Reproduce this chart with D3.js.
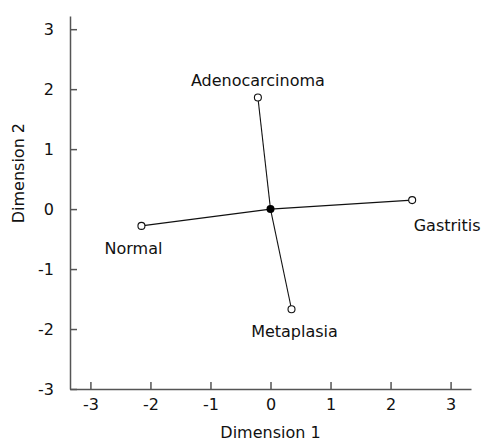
<!DOCTYPE html>
<html>
<head>
<meta charset="utf-8">
<script src="https://cdn.jsdelivr.net/npm/d3@7"></script>
<style>
  html, body { margin: 0; padding: 0; background: #fff; }
  svg text { font-family: "DejaVu Sans", Verdana, sans-serif; fill: #111; }
</style>
</head>
<body>
<svg id="chart" width="483" height="443"></svg>
<script>
// ---- data ----
const groups = ["Adenocarcinoma", "Gastritis", "Metaplasia", "Normal"];
const dim1   = [-0.21, 2.36, 0.35, -2.15];
const dim2   = [1.86, 0.15, -1.67, -0.28];
const centroid = [0, 0];
const tickValues = [-3, -2, -1, 0, 1, 2, 3];
const xTitle = "Dimension 1";
const yTitle = "Dimension 2";

// ---- label placement (pixel offsets from each point) ----
const labelDx = [0, 35, 3, -8];
const labelDy = [-12, 31, 28, 28];

const svg = d3.select("#chart");
const x = d3.scaleLinear().domain([-3.34, 3.34]).range([70, 471]);
const y = d3.scaleLinear().domain([-3, 3.22]).range([389, 16]);

const axisColor = "#555";
const fontSize = 16;

// x axis
const gx = svg.append("g").attr("transform", `translate(0,${y(-3)})`)
  .call(d3.axisBottom(x).tickValues(tickValues).tickSizeInner(-7).tickSizeOuter(0).tickPadding(10)
        .tickFormat(d => String(d)));
// y axis
const gy = svg.append("g").attr("transform", `translate(${x.range()[0]},0)`)
  .call(d3.axisLeft(y).tickValues(tickValues).tickSizeInner(-7).tickSizeOuter(0).tickPadding(16)
        .tickFormat(d => String(d)));

[gx, gy].forEach(g => {
  g.select(".domain").attr("stroke", axisColor).attr("stroke-width", 1.5);
  g.selectAll(".tick line").attr("stroke", axisColor).attr("stroke-width", 1.5);
  g.selectAll(".tick text").attr("font-size", fontSize).attr("fill", "#111")
    .style("font-family", "DejaVu Sans, Verdana, sans-serif");
});

// axis titles
svg.append("text").attr("x", x(0)).attr("y", 438)
  .attr("text-anchor", "middle").attr("font-size", fontSize).text(xTitle);
svg.append("text")
  .attr("transform", `translate(24,${y(0.6)}) rotate(-90)`)
  .attr("text-anchor", "middle").attr("font-size", fontSize).text(yTitle);

// spokes
const g = svg.append("g");
groups.forEach((name, i) => {
  g.append("line")
    .attr("x1", x(centroid[0])).attr("y1", y(centroid[1]))
    .attr("x2", x(dim1[i])).attr("y2", y(dim2[i]))
    .attr("stroke", "#111").attr("stroke-width", 1.1);
});
groups.forEach((name, i) => {
  g.append("circle")
    .attr("cx", x(dim1[i])).attr("cy", y(dim2[i])).attr("r", 3.5)
    .attr("fill", "#fff").attr("stroke", "#111").attr("stroke-width", 1.1);
  g.append("text")
    .attr("x", x(dim1[i]) + labelDx[i]).attr("y", y(dim2[i]) + labelDy[i])
    .attr("text-anchor", "middle").attr("font-size", fontSize).text(name);
});
g.append("circle").attr("cx", x(centroid[0])).attr("cy", y(centroid[1])).attr("r", 4)
  .attr("fill", "#000");
</script>
</body>
</html>
